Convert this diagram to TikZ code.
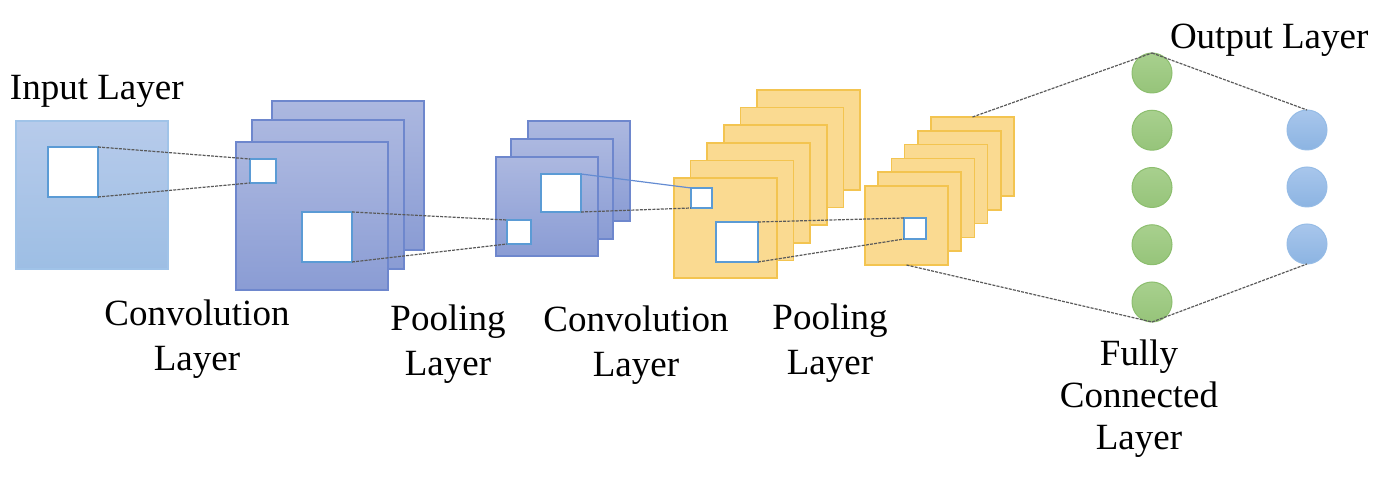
\documentclass[tikz,border=0pt]{standalone}
\usepackage{fontspec}
\setmainfont{Liberation Serif}
% layer colours
\definecolor{inTop}{RGB}{183,203,235}
\definecolor{inBot}{RGB}{157,190,228}
\definecolor{inEdge}{RGB}{160,195,232}
\definecolor{bTop}{RGB}{172,184,224}
\definecolor{bBot}{RGB}{138,156,212}
\definecolor{bEdge}{RGB}{110,135,205}
\definecolor{yFill}{RGB}{250,218,145}
\definecolor{yEdge}{RGB}{243,196,80}
\definecolor{winEdge}{RGB}{91,155,213}
\definecolor{linkGray}{RGB}{90,90,90}
\definecolor{linkBlue}{RGB}{100,140,210}
\definecolor{gTop}{RGB}{168,208,142}
\definecolor{gBot}{RGB}{150,196,122}
\definecolor{gEdge}{RGB}{140,190,110}
\definecolor{oTop}{RGB}{168,198,236}
\definecolor{oBot}{RGB}{140,180,226}
\definecolor{oEdge}{RGB}{150,188,230}
\begin{document}
\begin{tikzpicture}[x=0.5pt,y=-0.5pt,
  every node/.style={inner sep=0pt,outer sep=0pt},
  fmap/.style={rectangle,anchor=north west,line width=0.75pt},
  inmap/.style={fmap,draw=inEdge,top color=inTop,bottom color=inBot},
  bluemap/.style={fmap,draw=bEdge,top color=bTop,bottom color=bBot},
  yelmap/.style={fmap,draw=yEdge,fill=yFill},
  win/.style={rectangle,anchor=north west,draw=winEdge,fill=white,line width=1.2pt},
  link/.style={draw=linkGray,line width=0.6pt,dash pattern=on 1.5pt off 0.6pt},
  neuron/.style={circle,minimum size=20pt,line width=0.5pt},
  hidden/.style={neuron,draw=gEdge,top color=gTop,bottom color=gBot},
  outn/.style={neuron,draw=oEdge,top color=oTop,bottom color=oBot},
  lbl/.style={font=\fontsize{18.5}{22.5}\selectfont,align=center}
]
\useasboundingbox (0,0) rectangle (1388,480);

% input image
\node[inmap,minimum width=76pt,minimum height=74pt] (inp) at (16,121) {};

% first convolution stack
\node[bluemap,minimum width=76pt,minimum height=74.5pt] (c1c) at (272,101) {};
\node[bluemap,minimum width=76pt,minimum height=74.5pt] (c1b) at (252,120) {};
\node[bluemap,minimum width=76pt,minimum height=74pt] (c1a) at (236,142) {};

% first pooling stack
\node[bluemap,minimum width=51pt,minimum height=50pt] (p1c) at (528,121) {};
\node[bluemap,minimum width=51pt,minimum height=50pt] (p1b) at (511,139) {};
\node[bluemap,minimum width=51pt,minimum height=49.5pt] (p1a) at (496,157) {};

% second convolution stack
\foreach \i in {5,...,0}
  \node[yelmap,minimum width=51.5pt,minimum height=50pt] (c2\i) at ({674+16.6*\i},{178-17.6*\i}) {};

% second pooling stack
\foreach \i in {5,...,0}
  \node[yelmap,minimum width=41.5pt,minimum height=39.5pt] (p2\i) at ({865+13.2*\i},{186-13.8*\i}) {};

% receptive-field windows
\node[win,minimum width=25pt,minimum height=25pt] (wIn) at (48,147) {};
\node[win,minimum width=13pt,minimum height=12pt] (wC1s) at (250,159) {};
\node[win,minimum width=25pt,minimum height=25pt] (wC1b) at (302,212) {};
\node[win,minimum width=12pt,minimum height=12pt] (wP1s) at (507,220) {};
\node[win,minimum width=20pt,minimum height=19pt] (wP1b) at (541,174) {};
\node[win,minimum width=10.5pt,minimum height=10pt] (wC2s) at (691,188) {};
\node[win,minimum width=21pt,minimum height=20pt] (wC2b) at (716,222) {};
\node[win,minimum width=11pt,minimum height=10.5pt] (wP2s) at (904,218) {};

% fully connected and output neurons
\foreach \k in {1,...,5}
  \node[hidden] (g\k) at (1152,{73+57.25*(\k-1)}) {};
\foreach \k in {1,...,3}
  \node[outn] (o\k) at (1307,{130+57*(\k-1)}) {};

% connectors
\draw[link] (wIn.north east) -- (wC1s.north west);
\draw[link] (wIn.south east) -- (wC1s.south west);
\draw[link] (wC1b.north east) -- (wP1s.north west);
\draw[link] (wC1b.south east) -- (wP1s.south west);
\draw[draw=linkBlue,line width=0.6pt] (wP1b.north east) -- (wC2s.north west);
\draw[link] (wP1b.south east) -- (wC2s.south west);
\draw[link] (wC2b.north east) -- (wP2s.north west);
\draw[link] (wC2b.south east) -- (wP2s.south west);
\draw[link] (p25.north) -- (g1.north);
\draw[link] (p20.south) -- (g5.south);
\draw[link] (g1.north) -- (o1.north);
\draw[link] (g5.south) -- (o3.south);

% labels (base anchor sits on the last line)
\node[lbl,anchor=base west] (tIn) at (10,100) {Input Layer};
\node[lbl,anchor=base west] (tOut) at (1170,49) {Output Layer};
\node[lbl,anchor=base] (tC1) at (197,371) {Convolution\\Layer};
\node[lbl,anchor=base] (tP1) at (448,376) {Pooling\\Layer};
\node[lbl,anchor=base] (tC2) at (636,377) {Convolution\\Layer};
\node[lbl,anchor=base] (tP2) at (830,375) {Pooling\\Layer};
\node[lbl,anchor=base,font=\fontsize{18.5}{21}\selectfont] (tFC) at (1139,450) {Fully\\Connected\\Layer};
\end{tikzpicture}
\end{document}
